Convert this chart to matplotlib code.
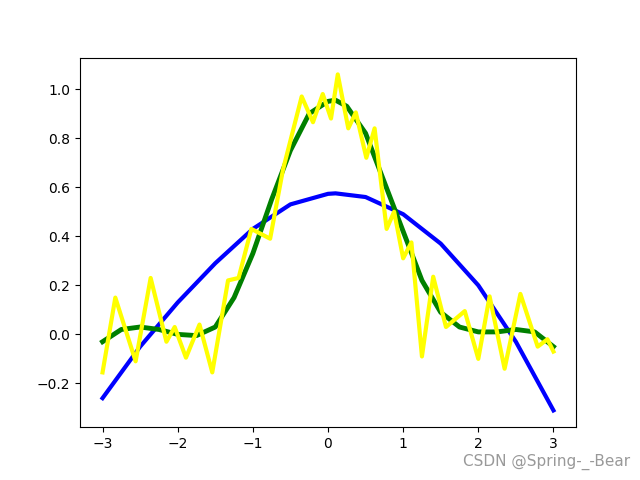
import numpy as np
import matplotlib
matplotlib.use('Agg')
import matplotlib.pyplot as plt

# values
blue_x = [-3, -2.5, -2, -1.5, -1, -0.5, 0, 0.1, 0.5, 1, 1.5, 2, 2.5, 3]
blue_y = [-0.26, -0.05, 0.13, 0.29, 0.43, 0.53, 0.573, 0.575, 0.56, 0.49, 0.37, 0.2, -0.03, -0.31]

green_x = [-3, -2.75, -2.5, -2.25, -2, -1.75, -1.5, -1.25, -1, -0.75, -0.5, -0.25,
           0, 0.1, 0.25, 0.5, 0.75, 1, 1.25, 1.5, 1.75, 2, 2.25, 2.5, 2.75, 3]
green_y = [-0.03, 0.02, 0.03, 0.02, 0.0, -0.005, 0.03, 0.15, 0.33, 0.55, 0.75, 0.9,
           0.95, 0.955, 0.93, 0.82, 0.62, 0.42, 0.22, 0.09, 0.03, 0.01, 0.01, 0.02, 0.01, -0.05]

yellow_x = [-3.0, -2.83, -2.56, -2.36, -2.15, -2.04, -1.89, -1.71, -1.54, -1.33, -1.19,
            -1.02, -0.77, -0.6, -0.35, -0.2, -0.07, 0.04, 0.13, 0.27, 0.37, 0.51, 0.62,
            0.78, 0.88, 1.0, 1.11, 1.25, 1.40, 1.57, 1.82, 2.0, 2.15, 2.35, 2.56, 2.79,
            2.92, 3.0]
yellow_y = [-0.155, 0.15, -0.11, 0.23, -0.03, 0.03, -0.095, 0.04, -0.155, 0.22, 0.23,
            0.43, 0.39, 0.67, 0.97, 0.865, 0.98, 0.88, 1.06, 0.84, 0.905, 0.72, 0.84,
            0.43, 0.50, 0.31, 0.375, -0.09, 0.235, 0.03, 0.095, -0.10, 0.155, -0.14,
            0.165, -0.05, -0.02, -0.07]

fig, ax = plt.subplots(figsize=(6.4, 4.8), dpi=100)
ax.plot(blue_x, blue_y, color='blue', lw=3, solid_joinstyle='round')
ax.plot(green_x, green_y, color='green', lw=3.5, solid_joinstyle='round')
ax.plot(yellow_x, yellow_y, color='yellow', lw=3, solid_joinstyle='round')

fig.text(0.985, 0.02, 'CSDN @Spring-_-Bear', ha='right', va='bottom',
         color='#999999', fontsize=11)
fig.savefig('out.png')
